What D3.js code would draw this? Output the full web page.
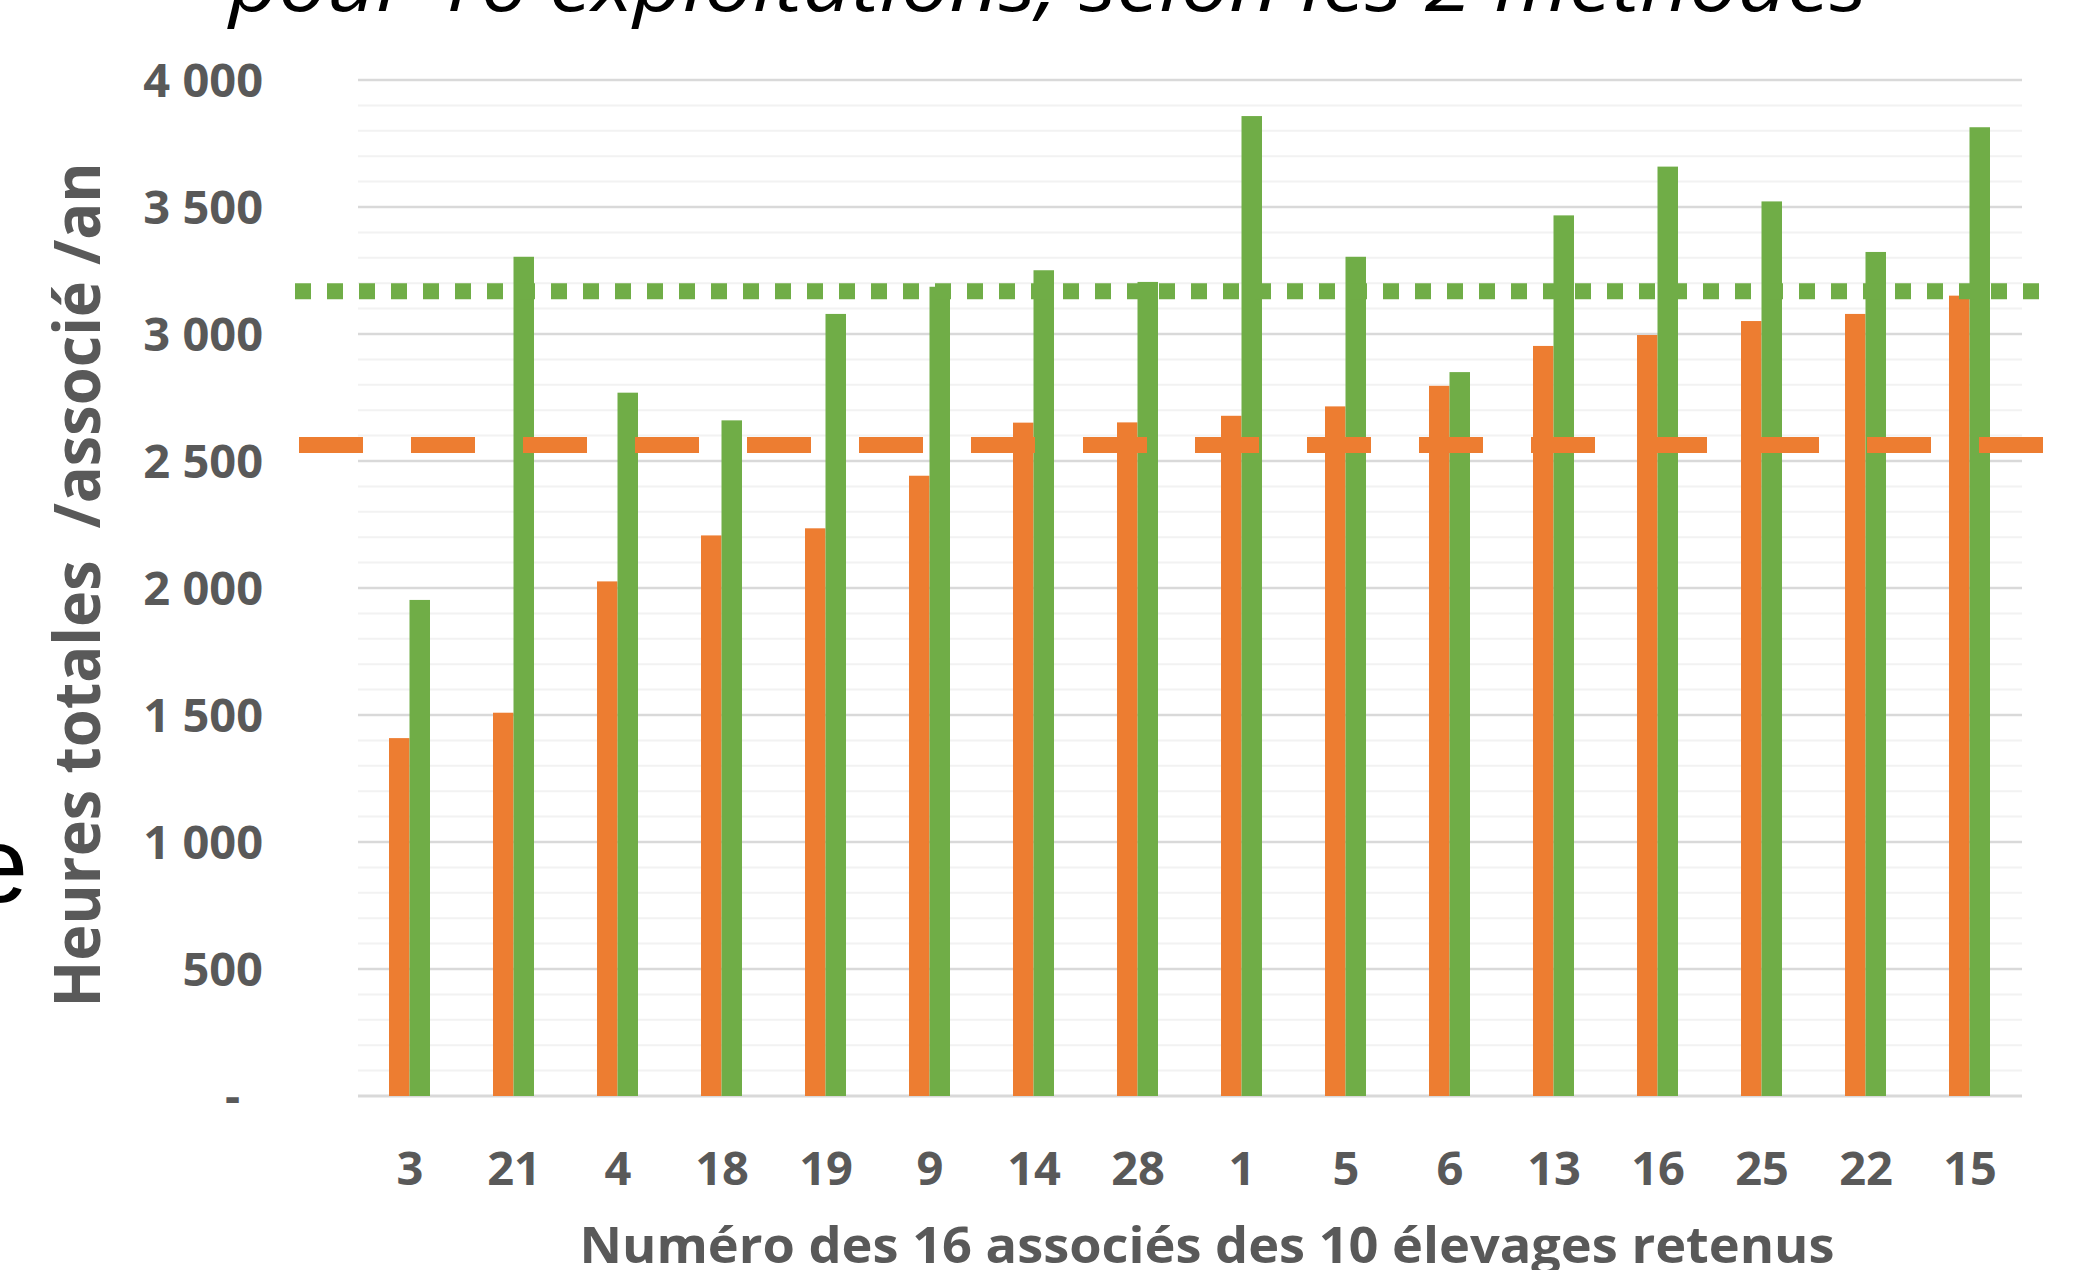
<!DOCTYPE html>
<html>
<head>
<meta charset="utf-8">
<script src="https://cdn.jsdelivr.net/npm/d3@7"></script>
<style>
  html, body { margin: 0; padding: 0; background: #fff; }
  svg { display: block; }
</style>
</head>
<body>
<div id="chart-area"></div>
<script>
// numéros des associés, dans l'ordre du graphique
var associes = ["3", "21", "4", "18", "19", "9", "14", "28", "1", "5", "6", "13", "16", "25", "22", "15"]

// heures totales /associé /an, méthode 1 (orange) et méthode 2 (vert)
var methode1 = [1409, 1509, 2026, 2207, 2235, 2442, 2651, 2652, 2678, 2715, 2796, 2953, 2996, 3051, 3079, 3151]
var methode2 = [1953, 3304, 2769, 2660, 3079, 3186, 3251, 3205, 3858, 3304, 2850, 3467, 3659, 3522, 3323, 3814]

// moyennes (lignes pointillées)
var moyenne1 = 2563
var moyenne2 = 3168

var yTicks = [0, 500, 1000, 1500, 2000, 2500, 3000, 3500, 4000]
var yMinor = d3.range(0, 4001, 100)

var W = 2081, H = 1270
var orange = "#ED7D31", vert = "#70AD47", gris = "#595959"

var svg = d3.select("#chart-area")
  .append("svg")
    .attr("width", W)
    .attr("height", H)

svg.append("rect").attr("width", W).attr("height", H).attr("fill", "#fff")

// scales
var x = d3.scaleBand()
  .domain(associes)
  .range([358, 2022])
  .padding(0)

var xs = d3.scaleBand()
  .domain(["m1", "m2"])
  .range([31, 72])

var y = d3.scaleLinear()
  .domain([0, 4000])
  .range([1096, 80])

// gridlines mineures
svg.append("g").selectAll("line")
  .data(yMinor.filter(function (v) { return v % 500 != 0 }))
  .enter().append("line")
    .attr("x1", 358).attr("x2", 2022)
    .attr("y1", function (d) { return y(d) })
    .attr("y2", function (d) { return y(d) })
    .attr("stroke", "#f2f2f2")
    .attr("stroke-width", 2)

// gridlines majeures
svg.append("g").selectAll("line")
  .data(yTicks)
  .enter().append("line")
    .attr("x1", 358).attr("x2", 2022)
    .attr("y1", function (d) { return y(d) })
    .attr("y2", function (d) { return y(d) })
    .attr("stroke", "#d9d9d9")
    .attr("stroke-width", function (d) { return d == 0 ? 3 : 2.5 })

// Y tick labels
var fmt = function (v) {
  if (v == 0) return "-"
  return d3.format(",")(v).replace(",", " ")
}
svg.append("g").selectAll("text")
  .data(yTicks)
  .enter().append("text")
    .attr("x", function (d) { return d == 0 ? 240 : 263 })
    .attr("y", function (d) { return y(d) + 17 })
    .attr("text-anchor", "end")
    .attr("font-family", "'Open Sans', sans-serif")
    .attr("font-weight", "bold")
    .attr("font-size", "47px")
    .attr("fill", gris)
    .text(fmt)

// Bars
var rows = associes.map(function (a, i) {
  return { id: a, m1: methode1[i], m2: methode2[i] }
})

var groups = svg.append("g").selectAll("g")
  .data(rows)
  .enter().append("g")
    .attr("transform", function (d) { return "translate(" + x(d.id) + ",0)" })

groups.selectAll("rect")
  .data(function (d) { return [{ k: "m1", v: d.m1 }, { k: "m2", v: d.m2 }] })
  .enter().append("rect")
    .attr("x", function (d) { return xs(d.k) })
    .attr("width", xs.bandwidth())
    .attr("y", function (d) { return y(d.v) })
    .attr("height", function (d) { return y(0) - y(d.v) })
    .attr("fill", function (d) { return d.k == "m1" ? orange : vert })

// lignes moyennes
svg.append("line")
  .attr("x1", 299).attr("x2", 2043)
  .attr("y1", y(moyenne1)).attr("y2", y(moyenne1))
  .attr("stroke", orange)
  .attr("stroke-width", 16)
  .attr("stroke-dasharray", "64,48")

svg.append("line")
  .attr("x1", 295).attr("x2", 2040)
  .attr("y1", y(moyenne2)).attr("y2", y(moyenne2))
  .attr("stroke", vert)
  .attr("stroke-width", 16)
  .attr("stroke-dasharray", "16,16")

// X labels
svg.append("g").selectAll("text")
  .data(associes)
  .enter().append("text")
    .attr("x", function (d) { return x(d) + x.bandwidth() / 2 })
    .attr("y", 1185)
    .attr("text-anchor", "middle")
    .attr("font-family", "'Open Sans', sans-serif")
    .attr("font-weight", "bold")
    .attr("font-size", "47px")
    .attr("fill", gris)
    .text(function (d) { return d })

// X title
svg.append("text")
  .attr("x", 1207)
  .attr("y", 1263)
  .attr("text-anchor", "middle")
  .attr("font-family", "'Open Sans', sans-serif")
  .attr("font-weight", "bold")
  .attr("font-size", "50px")
  .attr("fill", gris)
  .attr("textLength", 1255)
  .attr("lengthAdjust", "spacingAndGlyphs")
  .text("Numéro des 16 associés des 10 élevages retenus")

// Y title
svg.append("text")
  .attr("transform", "translate(100,585) rotate(-90)")
  .attr("text-anchor", "middle")
  .attr("font-family", "'Open Sans', sans-serif")
  .attr("font-weight", "bold")
  .attr("font-size", "64px")
  .attr("fill", gris)
  .attr("textLength", 845)
  .attr("lengthAdjust", "spacingAndGlyphs")
  .attr("xml:space", "preserve")
  .style("white-space", "pre")
  .text("Heures totales  /associé /an")

// titre (coupé en haut)
svg.append("text")
  .attr("x", 229)
  .attr("y", 11)
  .attr("font-family", "'Open Sans', sans-serif")
  .attr("font-style", "italic")
  .attr("font-size", "76px")
  .attr("fill", "#000")
  .attr("textLength", 1638)
  .attr("lengthAdjust", "spacingAndGlyphs")
  .text("pour 16 exploitations, selon les 2 méthodes")

// bout de texte coupé à gauche
svg.append("text")
  .attr("x", 28)
  .attr("y", 902)
  .attr("text-anchor", "end")
  .attr("font-family", "'Liberation Sans', sans-serif")
  .attr("font-size", "108px")
  .attr("fill", "#000")
  .text("e")
</script>
</body>
</html>
